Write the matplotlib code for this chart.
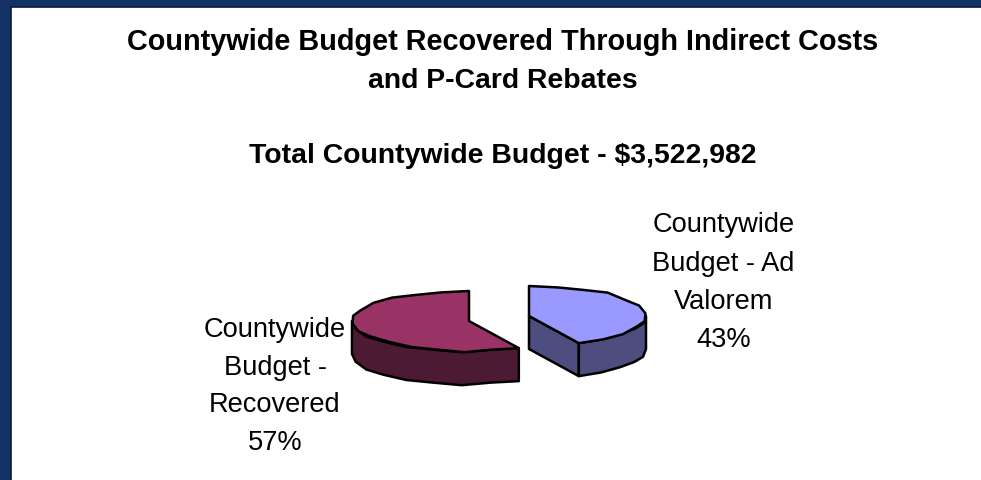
import numpy as np
import matplotlib
matplotlib.use("Agg")
import matplotlib.pyplot as plt
from matplotlib.patches import Polygon, Rectangle

plt.rcParams['font.family'] = ['Liberation Sans', 'DejaVu Sans']

# data
categories = ["Countywide\nBudget - Ad\nValorem", "Countywide\nBudget -\nRecovered"]
shares = [43, 57]
title_lines = ["Countywide Budget Recovered Through Indirect Costs", "and P-Card Rebates"]
subtitle = "Total Countywide Budget - $3,522,982"
top_colors = ["#9999FF", "#993366"]
side_colors = ["#4D4D80", "#4D1A33"]
centers = [(529, 317), (469, 322)]
label_pos = [(723.5, 347), (275, 450)]
label_spacing = [1.61, 1.58]

W, H = 981, 481
RX, RY, DEPTH = 117, 30, 33
NAVY = "#133366"

fig = plt.figure(figsize=(W / 100, H / 100), dpi=100, facecolor=NAVY)
ax = fig.add_axes([0, 0, 1, 1])
ax.set_xlim(0, W)
ax.set_ylim(H, 0)
ax.axis("off")

ax.add_patch(Rectangle((10.5, 7.5), W, H, facecolor="white", edgecolor="#0A1A33", lw=1.2, zorder=1))

for y, size, t in zip((50, 88, 163), (20.8, 20.4, 20.4), title_lines + [subtitle]):
    ax.text(503, y, t, ha="center", va="baseline", fontsize=size, fontweight="bold", color="black")


def rim(a0, a1, c):
    """Coarse, low-resolution ellipse arc, as the source's stepped outline."""
    n = max(2, int(round((a1 - a0) / 14)) + 1)
    th = np.radians(np.linspace(a0, a1, n))
    x = c[0] + RX * np.sin(th)
    y = c[1] - RY * np.cos(th)
    yq = np.round((y - c[1]) / 2.6) * 2.6 + c[1]
    pts = np.column_stack([x, yq])
    pts[0] = x[0], y[0]
    pts[-1] = x[-1], y[-1]
    return pts


edges = np.cumsum([0] + shares) * 3.6
for k in range(len(shares)):
    a0, a1 = edges[k], edges[k + 1]
    c = centers[k]
    pts = rim(a0, a1, c)
    kw = dict(edgecolor="black", lw=1.8, joinstyle="round", zorder=3)
    if k == 0:
        ap = np.array(c, float)
        end = pts[-1]
        wall = np.vstack([[ap], [end], [end + [0, DEPTH]], [ap + [0, DEPTH]]])
        ax.add_patch(Polygon(wall, closed=True, facecolor=side_colors[k], **kw))
        vis = rim(90, a1, c)
    else:
        vis = rim(a0, 270, c)
    rim_poly = np.vstack([vis, (vis + [0, DEPTH])[::-1]])
    ax.add_patch(Polygon(rim_poly, closed=True, facecolor=side_colors[k], **kw))
    ax.add_patch(Polygon(np.vstack([[c], pts]), closed=True, facecolor=top_colors[k], **kw))
    ax.text(label_pos[k][0], label_pos[k][1], f"{categories[k]}\n{shares[k]}%", ha="center", va="baseline",
            fontsize=19.6, color="black", linespacing=label_spacing[k], zorder=4)

fig.savefig("out.png", dpi=100, facecolor=NAVY)
